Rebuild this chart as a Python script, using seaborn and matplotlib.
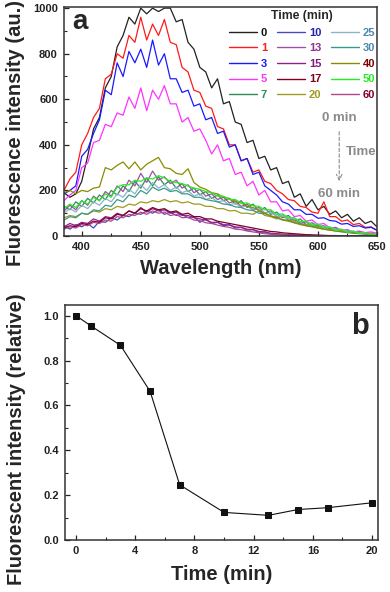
import numpy as np
import pandas as pd
import matplotlib
matplotlib.use("Agg")
import matplotlib.pyplot as plt
from matplotlib.lines import Line2D
from matplotlib.ticker import MultipleLocator, FormatStrFormatter
import seaborn as sns

# wavelength grid (nm) for the read-off spectra
wl = list(range(385, 651, 5))

# fluorescence spectra, every 5 nm
s0 = [190, 170, 185, 240, 350, 470, 520, 650, 700,
      830, 880, 960, 930, 1000, 975, 1000, 985, 1000,
      1000, 940, 950, 850, 820, 740, 720, 650, 690,
      580, 590, 500, 490, 410, 420, 340, 350, 290,
      300, 230, 240, 170, 185, 130, 160, 115, 130,
      95, 110, 80, 95, 65, 80, 55, 65, 40]
s1 = [200, 250, 280, 400, 450, 520, 560, 690, 710,
      800, 780, 880, 850, 960, 860, 930, 880, 950,
      850, 840, 740, 720, 640, 630, 570, 560, 480,
      470, 400, 400, 330, 340, 280, 290, 240, 230,
      200, 185, 160, 155, 130, 125, 105, 100, 150,
      85, 85, 65, 70, 50, 55, 38, 40, 25]
s3 = [185, 200, 220, 350, 380, 450, 510, 640, 620,
      760, 700, 810, 760, 820, 740, 860, 750, 800,
      690, 690, 630, 640, 570, 580, 510, 520, 450,
      460, 390, 400, 330, 340, 270, 280, 220, 200,
      180, 150, 140, 115, 115, 95, 95, 78, 80,
      68, 65, 52, 55, 42, 45, 35, 38, 25]
s5 = [155, 180, 200, 300, 320, 410, 420, 490, 480,
      540, 530, 610, 560, 650, 550, 640, 600, 660,
      580, 580, 500, 520, 460, 470, 420, 360, 400,
      330, 340, 270, 280, 220, 240, 180, 200, 150,
      150, 110, 115, 85, 90, 65, 70, 50, 55,
      35, 38, 25, 28, 18, 22, 15, 18, 12]
s7 = [130, 115, 150, 130, 165, 145, 180, 160, 200,
      180, 220, 195, 240, 210, 255, 220, 260, 225,
      245, 210, 230, 195, 210, 180, 195, 165, 180,
      155, 165, 140, 155, 125, 140, 110, 125, 95,
      105, 80, 90, 65, 75, 50, 58, 42, 45,
      32, 35, 22, 25, 15, 18, 10, 12, 8]
s10 = [45, 30, 50, 40, 55, 35, 65, 60, 80,
       70, 90, 85, 100, 95, 110, 100, 115, 95,
       105, 90, 95, 80, 85, 60, 75, 55, 60,
       45, 50, 35, 38, 25, 28, 15, 18, 8,
       10, 5, 6, 3, 4, 2, 2, 1, 1,
       0, 1, 0, 0, 0, 0, 0, 0, 0]
s13 = [110, 135, 115, 155, 135, 175, 155, 195, 175,
       220, 195, 245, 220, 275, 235, 285, 245, 260,
       230, 245, 210, 225, 190, 205, 175, 185, 160,
       170, 145, 155, 130, 140, 115, 125, 100, 110,
       85, 92, 70, 76, 56, 62, 45, 48, 35,
       38, 26, 28, 18, 20, 12, 14, 8, 10]
s15 = [40, 55, 45, 60, 55, 75, 65, 85, 80,
       100, 90, 110, 100, 125, 105, 120, 110, 115,
       100, 105, 90, 90, 80, 75, 70, 60, 60,
       50, 48, 40, 38, 30, 28, 20, 18, 12,
       10, 8, 6, 5, 4, 3, 2, 2, 1,
       1, 1, 0, 0, 0, 0, 0, 0, 0]
s17 = [35, 45, 40, 55, 50, 65, 60, 80, 75,
       95, 90, 110, 100, 120, 110, 125, 115, 120,
       105, 110, 95, 100, 85, 85, 75, 75, 65,
       60, 55, 50, 45, 40, 35, 30, 25, 20,
       18, 14, 12, 10, 8, 6, 5, 4, 3,
       2, 2, 1, 1, 1, 0, 0, 0, 0]
s20 = [80, 90, 85, 100, 95, 110, 105, 120, 115,
       130, 125, 140, 135, 150, 145, 155, 150, 160,
       150, 155, 145, 150, 140, 140, 130, 130, 120,
       120, 110, 112, 100, 100, 95, 110, 90, 85,
       75, 90, 70, 65, 55, 50, 45, 40, 35,
       30, 28, 25, 20, 18, 15, 12, 10, 8]
s25 = [100, 120, 105, 135, 120, 150, 135, 165, 150,
       185, 170, 205, 185, 225, 200, 235, 210, 225,
       200, 215, 190, 200, 175, 185, 160, 170, 150,
       155, 135, 145, 125, 133, 113, 120, 100, 105,
       87, 90, 75, 77, 63, 65, 50, 53, 40,
       40, 30, 30, 22, 22, 14, 14, 8, 10]
s30 = [70, 85, 80, 100, 95, 115, 110, 135, 130,
       160, 150, 180, 170, 200, 185, 215, 200, 210,
       195, 200, 185, 185, 170, 170, 160, 155, 150,
       140, 138, 128, 125, 115, 112, 100, 98, 88,
       82, 72, 68, 58, 55, 45, 42, 35, 30,
       26, 22, 18, 15, 12, 10, 8, 6, 5]
s40 = [190, 200, 185, 200, 195, 210, 215, 300, 290,
       310, 325, 295, 325, 290, 315, 330, 345, 300,
       295, 275, 270, 295, 235, 215, 205, 190, 185,
       170, 165, 150, 145, 130, 125, 112, 100, 88,
       80, 70, 65, 58, 50, 45, 40, 35, 30,
       26, 22, 20, 17, 14, 12, 10, 8, 6]
s50 = [120, 140, 125, 155, 140, 170, 155, 185, 170,
       215, 225, 225, 245, 240, 255, 250, 265, 255,
       240, 235, 230, 220, 210, 205, 195, 190, 175,
       175, 160, 160, 145, 145, 133, 130, 115, 115,
       95, 97, 80, 80, 63, 65, 47, 50, 35,
       38, 24, 28, 16, 20, 10, 13, 5, 8]
s60 = [30, 40, 35, 50, 45, 60, 55, 70, 65,
       85, 80, 95, 90, 105, 95, 110, 100, 105,
       90, 95, 80, 82, 70, 68, 58, 55, 48,
       42, 38, 30, 28, 22, 18, 14, 10, 8,
       6, 5, 4, 3, 2, 2, 1, 1, 1,
       0, 0, 0, 0, 0, 0, 0, 0, 0]

times = ['0', '1', '3', '5', '7', '10', '13', '15', '17', '20', '25', '30', '40', '50', '60']
spectra = [s0, s1, s3, s5, s7, s10, s13, s15, s17, s20, s25, s30, s40, s50, s60]
line_colors = ['#222222', '#ff1a1a', '#1a1aff', '#ff33ff', '#2e8b57', '#4848c8', '#a050a0',
               '#902090', '#800020', '#a09a20', '#8cb4c8', '#3a9a8a', '#8b8b00', '#22ee22', '#b04888']
text_colors = ['#111111', '#ff1a1a', '#1a1aff', '#ff33ff', '#2e8b57', '#2020b0', '#903090',
               '#801a80', '#800020', '#a09a20', '#4a8ab0', '#4a8ab0', '#800000', '#22ee22', '#800030']

# panel b: relative intensity vs time
t_min = [0, 1, 3, 5, 7, 10, 13, 15, 17, 20]
rel_int = [1.0, 0.955, 0.868, 0.663, 0.246, 0.123, 0.110, 0.136, 0.144, 0.166]

sns.set_style('ticks')
plt.rcParams['font.family'] = ['Liberation Sans', 'DejaVu Sans']
plt.rcParams['font.weight'] = 'bold'
plt.rcParams['axes.labelweight'] = 'bold'
plt.rcParams['xtick.direction'] = 'in'
plt.rcParams['ytick.direction'] = 'in'

frames = []
for t, s in zip(times, spectra):
    frames.append(pd.DataFrame({'wl': wl, 'val': s, 'time': t}))
df = pd.concat(frames, ignore_index=True)
palette = dict(zip(times, line_colors))

fig = plt.figure(figsize=(3.9, 5.92), dpi=100)
ax1 = fig.add_axes([64 / 390, 1 - 236 / 592, 313 / 390, 229 / 592])
ax2 = fig.add_axes([65 / 390, 1 - 540 / 592, 313 / 390, 235 / 592])

sns.lineplot(data=df, x='wl', y='val', hue='time', palette=palette, hue_order=times,
             estimator=None, sort=False, lw=0.9, legend=False, ax=ax1)
ax1.set_xlim(385, 650)
ax1.set_ylim(0, 1005)
ax1.xaxis.set_major_locator(MultipleLocator(50))
ax1.xaxis.set_minor_locator(MultipleLocator(25))
ax1.yaxis.set_major_locator(MultipleLocator(200))
ax1.yaxis.set_minor_locator(MultipleLocator(100))
ax1.set_xlabel('Wavelength (nm)', fontsize=14.5, labelpad=5)
ax1.set_ylabel('Fluorescence intensity (au.)', fontsize=14.5)
ax1.yaxis.set_label_coords(-0.125, 0.45)

handles = [Line2D([], [], color=c, lw=1.0) for c in line_colors]
leg = ax1.legend(handles, times, ncol=3, loc='upper right', bbox_to_anchor=(1.02, 1.02),
                 frameon=False, fontsize=8, title='Time (min)', title_fontsize=8.8,
                 handlelength=2.5, handletextpad=0.35, columnspacing=0.9, labelspacing=0.5,
                 borderpad=0.2)
leg.get_title().set_fontweight('bold')
for txt, c in zip(leg.get_texts(), text_colors):
    txt.set_color(c)
    txt.set_fontweight('bold')

grey = '#8a8a8a'
ax1.text(618, 517, '0 min', color=grey, fontsize=9.5, ha='center', va='center')
ax1.text(637, 368, 'Time', color=grey, fontsize=9.5, ha='center', va='center')
ax1.text(618, 185, '60 min', color=grey, fontsize=9.5, ha='center', va='center')
ax1.annotate('', xy=(618, 228), xytext=(618, 470),
             arrowprops=dict(arrowstyle='->', color=grey, lw=0.8, ls=(0, (3, 2))))
ax1.text(0.025, 0.99, 'a', transform=ax1.transAxes, fontsize=20, ha='left', va='top')

sns.lineplot(x=t_min, y=rel_int, color='#111111', lw=0.8, marker='s', markersize=5,
             markeredgecolor='#111111', ax=ax2)
ax2.set_xlim(-0.75, 20.4)
ax2.set_ylim(0, 1.048)
ax2.xaxis.set_major_locator(MultipleLocator(4))
ax2.xaxis.set_minor_locator(MultipleLocator(2))
ax2.yaxis.set_major_locator(MultipleLocator(0.2))
ax2.yaxis.set_minor_locator(MultipleLocator(0.1))
ax2.yaxis.set_major_formatter(FormatStrFormatter('%.1f'))
ax2.set_xlabel('Time (min)', fontsize=14.5, labelpad=6)
ax2.set_ylabel('Fluorescent intensity (relative)', fontsize=14.5)
ax2.yaxis.set_label_coords(-0.125, 0.43)
ax2.text(0.97, 0.97, 'b', transform=ax2.transAxes, fontsize=21, ha='right', va='top')

for ax in (ax1, ax2):
    for sp in ax.spines.values():
        sp.set_visible(True)
        sp.set_linewidth(1.1)
        sp.set_color('#333333')
    ax.tick_params(which='major', length=3.5, width=0.9, labelsize=8, pad=4.5, colors='#222222')
    ax.tick_params(which='minor', length=2, width=0.8)
    ax.tick_params(top=False, right=False, which='both')
    for lbl in ax.get_xticklabels() + ax.get_yticklabels():
        lbl.set_fontweight('bold')

fig.savefig('out.png', dpi=100)
